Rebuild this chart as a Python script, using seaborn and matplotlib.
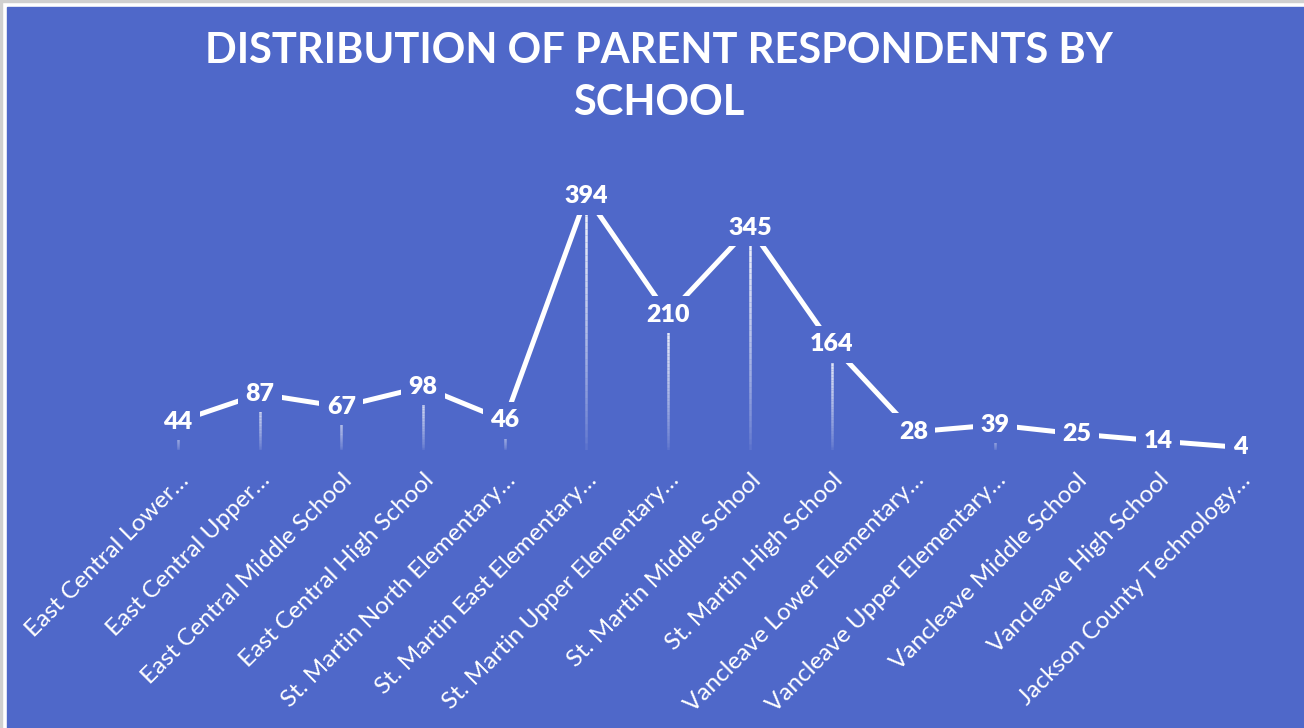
import numpy as np
import pandas as pd
import seaborn as sns
import matplotlib.pyplot as plt
from matplotlib.collections import LineCollection
from matplotlib.patches import Rectangle

schools = [
    'East Central Lower…',
    'East Central Upper…',
    'East Central Middle School',
    'East Central High School',
    'St. Martin North Elementary…',
    'St. Martin East Elementary…',
    'St. Martin Upper Elementary…',
    'St. Martin Middle School',
    'St. Martin High School',
    'Vancleave Lower Elementary…',
    'Vancleave Upper Elementary…',
    'Vancleave Middle School',
    'Vancleave High School',
    'Jackson County Technology…',
]
respondents = [44, 87, 67, 98, 46, 394, 210, 345, 164, 28, 39, 25, 14, 4]
title = 'DISTRIBUTION OF PARENT RESPONDENTS BY\nSCHOOL'

bg = '#4F68C9'
W, H = 1304, 728

sns.set_theme(style='white')
plt.rcParams['font.family'] = ['Lato', 'DejaVu Sans']

df = pd.DataFrame({'school': schools, 'n': respondents})
df['pos'] = np.arange(len(df))

fig = plt.figure(figsize=(W / 100, H / 100), dpi=100)
fig.patch.set_facecolor('white')
# thin grey frame + blue chart area
fig.add_artist(Rectangle((0, 0), 2 / W, 1, transform=fig.transFigure, color='#D0D0D0', zorder=0))
fig.add_artist(Rectangle((0, 1 - 2 / H), 1, 2 / H, transform=fig.transFigure, color='#D0D0D0', zorder=0))
fig.add_artist(Rectangle((7 / W, 0), 1, 1 - 7 / H, transform=fig.transFigure, color=bg, zorder=0))

ax = fig.add_axes([137 / W, (H - 450) / H, 1144 / W, 290 / H])
ax.set_facecolor('none')

# drop lines fading toward the baseline
segs, cols = [], []
for x, v in zip(df['pos'], df['n']):
    ys = np.linspace(0, v, 40)
    for k in range(len(ys) - 1):
        segs.append([(x, ys[k]), (x, ys[k + 1])])
        a = 0.08 + 0.9 * (ys[k] / v) ** 0.8
        cols.append((1, 1, 1, a))
ax.add_collection(LineCollection(segs, colors=cols, linewidths=1.8, zorder=1))

sns.lineplot(data=df, x='pos', y='n', ax=ax, color='white', linewidth=3.6,
             solid_joinstyle='miter', zorder=2)

for x, v in zip(df['pos'], df['n']):
    ax.text(x, v, str(v), ha='center', va='center', color='white', fontsize=18,
            fontweight='heavy', zorder=3,
            bbox=dict(boxstyle='square,pad=0.3', fc=bg, ec='none'))

ax.set_xlim(-0.5, len(df) - 0.5)
ax.set_ylim(0, 450)
ax.set_xticks(df['pos'])
ax.set_xticklabels(df['school'], rotation=45, ha='right', va='top',
                   rotation_mode='anchor', color='white', fontsize=17.5)
ax.tick_params(axis='x', length=0, pad=14)
ax.set_yticks([])
ax.set_xlabel('')
ax.set_ylabel('')
sns.despine(ax=ax, left=True, bottom=True)

fig.text(659 / W, 1 - 77 / H, title, ha='center', va='center', color='white',
         fontsize=30, fontweight='bold', linespacing=1.45)

fig.savefig('out.png', dpi=100, facecolor=fig.get_facecolor())
